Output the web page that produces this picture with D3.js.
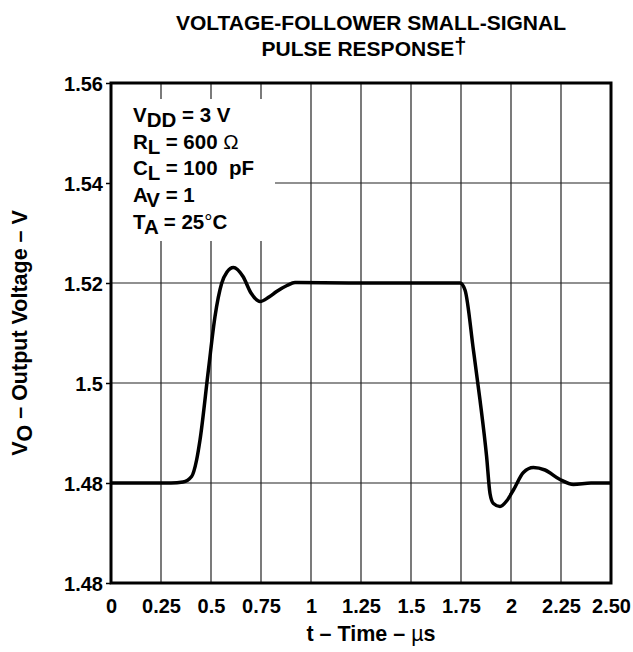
<!DOCTYPE html>
<html>
<head>
<meta charset="utf-8">
<script src="https://cdn.jsdelivr.net/npm/d3@7"></script>
<style>
  html, body { margin: 0; padding: 0; background: #fff; }
  svg { display: block; }
  text { font-family: "Liberation Sans", Arial, Helvetica, sans-serif; font-weight: bold; fill: #000; white-space: pre; }
</style>
</head>
<body>
<script>
// Pulse response samples: time (µs) and output voltage (V)
const timeUs = [0, 0.30, 0.36, 0.403, 0.428, 0.445, 0.487, 0.52, 0.553, 0.58, 0.612, 0.66, 0.70, 0.745, 0.79, 0.828, 0.88, 0.92, 1.2, 1.5, 1.745, 1.77, 1.812, 1.845, 1.878, 1.895, 1.912, 1.945, 1.98, 2.012, 2.062, 2.112, 2.17, 2.245, 2.312, 2.4, 2.5];
const voltage = [1.48, 1.48, 1.4802, 1.4813, 1.4846, 1.4886, 1.5026, 1.5133, 1.5199, 1.5222, 1.5231, 1.5213, 1.518, 1.5163, 1.5172, 1.5183, 1.5195, 1.5201, 1.52, 1.52, 1.52, 1.5186, 1.5066, 1.4966, 1.4853, 1.4779, 1.4759, 1.4753, 1.4765, 1.4786, 1.4821, 1.4831, 1.4826, 1.4807, 1.4797, 1.48, 1.48];

// Axis ticks and their printed labels
const xTickValues = [0, 0.25, 0.5, 0.75, 1, 1.25, 1.5, 1.75, 2, 2.25, 2.5];
const xTickLabels = ["0", "0.25", "0.5", "0.75", "1", "1.25", "1.5", "1.75", "2", "2.25", "2.50"];
const yTickValues = [1.46, 1.48, 1.50, 1.52, 1.54, 1.56];
const yTickLabels = ["1.48", "1.48", "1.5", "1.52", "1.54", "1.56"];

// Test conditions box lines: [symbol, subscript, rest, special glyph, tail]
const conditions = [
  ["V", "DD", " = 3 V", ""],
  ["R", "L", " = 600 ", "\u03A9"],
  ["C", "L", " = 100\u00A0\u00A0pF", ""],
  ["A", "V", " = 1", ""],
  ["T", "A", " = 25", "\u00B0", "C"]
];

const W = 633, H = 652;
const margin = { left: 111, right: 22, top: 83, bottom: 69 };

const svg = d3.select("body").append("svg").attr("width", W).attr("height", H);

const x = d3.scaleLinear().domain([0, 2.5]).range([margin.left, W - margin.right]);
const y = d3.scaleLinear().domain([1.46, 1.56]).range([H - margin.bottom, margin.top]);

// Grid
const grid = svg.append("g").attr("stroke", "#222").attr("stroke-width", 1.2);
grid.selectAll("line.v").data(xTickValues.slice(1, -1)).join("line")
  .attr("x1", d => x(d)).attr("x2", d => x(d))
  .attr("y1", y(1.56)).attr("y2", y(1.46));
grid.selectAll("line.h").data(yTickValues.slice(1, -1)).join("line")
  .attr("x1", x(0)).attr("x2", x(2.5))
  .attr("y1", d => y(d)).attr("y2", d => y(d));

// Conditions box (white backing hides the grid)
const boxX = x(0), boxY = 99;
svg.append("rect").attr("x", boxX).attr("y", boxY)
  .attr("width", 164).attr("height", 142).attr("fill", "#fff");

const cond = svg.append("g").attr("font-size", 20.5);
conditions.forEach((c, i) => {
  const t = cond.append("text").attr("x", 133).attr("y", 122 + i * 26.7);
  t.append("tspan").text(c[0]);
  t.append("tspan").attr("dy", 5).text(c[1]);
  t.append("tspan").attr("dy", -5).text(c[2]);
  if (c[3]) t.append("tspan").attr("font-weight", "normal").text(c[3]);
  if (c[4]) t.append("tspan").text(c[4]);
});

// Axes
const yAxis = d3.axisLeft(y).tickValues(yTickValues)
  .tickFormat((d, i) => yTickLabels[i]).tickSize(5).tickPadding(3);
const gy = svg.append("g").attr("transform", `translate(${x(0)},0)`).call(yAxis);
gy.select(".domain").remove();
gy.selectAll(".tick line").attr("stroke", "#000").attr("stroke-width", 1.5);
gy.selectAll(".tick text").attr("font-size", 20).attr("font-family", null).attr("dy", "0.36em");

const xAxis = d3.axisBottom(x).tickValues(xTickValues)
  .tickFormat((d, i) => xTickLabels[i]).tickSize(0).tickPadding(16);
const gx = svg.append("g").attr("transform", `translate(0,${y(1.46)})`).call(xAxis);
gx.select(".domain").remove();
gx.selectAll(".tick text").attr("font-size", 20).attr("font-family", null);

// Frame
svg.append("rect")
  .attr("x", x(0)).attr("y", y(1.56))
  .attr("width", x(2.5) - x(0)).attr("height", y(1.46) - y(1.56))
  .attr("fill", "none").attr("stroke", "#000").attr("stroke-width", 3);

// Response curve
const line = d3.line().x(d => x(d[0])).y(d => y(d[1])).curve(d3.curveMonotoneX);
svg.append("path")
  .datum(timeUs.map((t, i) => [t, voltage[i]]))
  .attr("d", line)
  .attr("fill", "none").attr("stroke", "#000").attr("stroke-width", 3.5)
  .attr("stroke-linejoin", "round");

// Titles
svg.append("text").attr("x", 371).attr("y", 30).attr("text-anchor", "middle")
  .attr("font-size", 21).text("VOLTAGE-FOLLOWER SMALL-SIGNAL");
const t2 = svg.append("text").attr("x", 364).attr("y", 56).attr("text-anchor", "middle")
  .attr("font-size", 21);
t2.append("tspan").text("PULSE RESPONSE");
t2.append("tspan").attr("font-weight", "bold").attr("font-size", 22).attr("dy", -3).text("\u2020");

const xt = svg.append("text").attr("x", 371).attr("y", 641).attr("text-anchor", "middle")
  .attr("font-size", 21.5);
xt.append("tspan").text("t \u2013 Time \u2013 ");
xt.append("tspan").attr("font-weight", "normal").text("\u00B5");
xt.append("tspan").text("s");

const yt = svg.append("text")
  .attr("transform", `translate(27,${(y(1.46) + y(1.56)) / 2}) rotate(-90)`)
  .attr("text-anchor", "middle").attr("font-size", 21.5);
yt.append("tspan").text("V");
yt.append("tspan").attr("dy", 5).text("O");
yt.append("tspan").attr("dy", -5).text(" \u2013 Output Voltage \u2013 V");
</script>
</body>
</html>
